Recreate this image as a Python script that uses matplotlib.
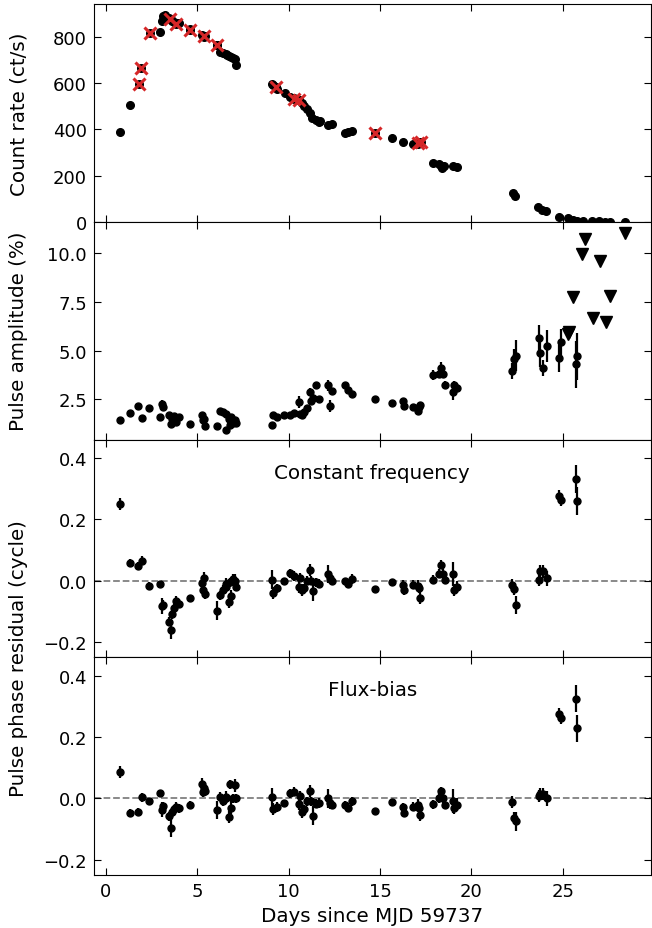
import numpy as np
import matplotlib
matplotlib.use("Agg")
import matplotlib.pyplot as plt

# ---- count rate (panel 1) ----
t_rate = [0.77, 1.33, 2.95, 3.06, 3.15, 3.25, 3.46, 3.55, 3.64, 3.73, 3.82, 4.0, 4.6,
          5.27, 5.36, 5.45, 6.09, 6.27, 6.4, 6.55, 6.65, 6.73, 6.86, 6.95, 7.05, 7.13,
          9.09, 9.15, 9.37, 9.82, 10.1, 10.27, 10.55, 10.73, 10.82, 11.0, 11.18, 11.27,
          11.51, 11.64, 11.7, 12.18, 12.36, 13.09, 13.27, 13.49,
          15.64, 16.28, 16.78, 17.09, 17.18, 17.88, 18.22, 18.33, 18.42, 18.49, 19.0, 19.22,
          22.28, 22.4, 23.64, 23.88, 24.09, 24.82, 25.31, 25.55, 25.8, 26.1, 26.6, 27.0,
          27.3, 27.6, 28.4]
rate = [388, 505, 822, 870, 888, 893, 880, 878, 870, 865, 862, 858, 835,
        810, 800, 805, 765, 735, 730, 727, 720, 716, 712, 710, 703, 678,
        598, 592, 575, 555, 540, 535, 525, 515, 500, 490, 470, 448,
        440, 432, 435, 418, 422, 386, 389, 393,
        363, 344, 336, 338, 343, 255, 248, 240, 231, 242, 242, 238,
        123, 112, 62, 51, 46, 22, 15, 7, 5, 3, 2, 2,
        1, 1, 0]

# red crosses (flagged observations, also drawn as black points)
t_cross = [1.82, 1.95, 2.4, 3.49, 3.82, 4.6, 5.4, 6.06, 9.33, 10.27, 10.55, 14.71, 17.1, 17.25]
rate_cross = [598, 665, 815, 878, 857, 831, 804, 766, 581, 530, 526, 382, 339, 343]

# ---- pulse timing (panels 2-4) ----
t_pulse = [0.76, 1.33, 1.78, 1.96, 2.36, 2.95, 3.06, 3.15, 3.46, 3.55, 3.64, 3.73, 3.82, 4.0, 4.6,
           5.27, 5.33, 5.36, 5.45,
           6.09, 6.27, 6.4, 6.55, 6.6, 6.73, 6.78, 6.86, 6.95, 7.05, 7.13,
           9.09, 9.15, 9.37, 9.73, 10.1, 10.27, 10.55, 10.6, 10.73, 10.85, 11.0, 11.18, 11.2,
           11.31, 11.51, 11.69, 12.18, 12.27, 12.36, 13.09, 13.27, 13.49,
           14.71, 15.64, 16.28, 16.3, 16.78, 17.09, 17.14, 17.18, 17.88, 18.22, 18.33, 18.46,
           18.55, 19.0, 19.04, 19.22,
           22.24, 22.33, 22.42, 23.68, 23.73, 23.9, 24.13, 24.82, 24.88, 25.73, 25.78]
amp = [1.45, 1.79, 2.17, 1.53, 2.05, 1.58, 2.27, 2.1, 1.7, 1.24, 1.5, 1.65, 1.35, 1.6, 1.24,
       1.7, 1.45, 1.5, 1.15,
       1.12, 1.93, 1.85, 0.95, 1.75, 1.5, 1.2, 1.6, 1.3, 1.45, 1.3,
       1.19, 1.7, 1.6, 1.7, 1.7, 1.8, 2.36, 1.75, 1.7, 1.85, 2.05, 2.88, 2.4,
       2.6, 3.22, 2.5, 3.22, 2.15, 2.93, 3.26, 3.0, 2.8,
       2.53, 2.32, 2.41, 2.15, 2.14, 1.93, 2.1, 2.2, 3.74, 3.8, 4.13, 3.8,
       3.26, 2.88, 3.26, 3.1,
       3.96, 4.57, 4.74, 5.64, 4.86, 4.12, 5.24, 4.6, 5.43, 4.31, 4.72]
amp_err = [0.05, 0.05, 0.05, 0.05, 0.05, 0.05, 0.2, 0.1, 0.1, 0.1, 0.1, 0.1, 0.1, 0.1, 0.05,
           0.1, 0.1, 0.1, 0.1,
           0.1, 0.1, 0.1, 0.1, 0.1, 0.1, 0.1, 0.1, 0.1, 0.1, 0.1,
           0.1, 0.1, 0.1, 0.1, 0.1, 0.1, 0.3, 0.1, 0.1, 0.1, 0.1, 0.2, 0.1,
           0.2, 0.15, 0.1, 0.3, 0.3, 0.15, 0.1, 0.1, 0.1,
           0.05, 0.05, 0.1, 0.1, 0.1, 0.15, 0.1, 0.15, 0.25, 0.15, 0.3, 0.2,
           0.2, 0.4, 0.2, 0.15,
           0.4, 0.5, 0.8, 0.7, 0.7, 0.4, 0.8, 0.7, 0.7, 1.2, 1.2]

res_cf = [0.25, 0.057, 0.048, 0.065, -0.016, -0.012, -0.083, -0.078, -0.134, -0.16, -0.11, -0.09,
          -0.066, -0.075, -0.058,
          -0.008, -0.03, 0.008, -0.045,
          -0.098, -0.048, -0.03, -0.02, -0.01, -0.069, -0.005, -0.05, 0.005, 0.0, -0.02,
          0.003, -0.04, -0.025, -0.002, 0.024, 0.015, -0.02, 0.01, -0.03, -0.025, 0.0, 0.035, 0.0,
          -0.035, -0.005, -0.01, 0.021, 0.01, 0.0, -0.002, -0.01, 0.005,
          -0.027, -0.005, -0.013, -0.031, -0.013, -0.017, -0.025, -0.056, 0.003, 0.022, 0.052, 0.022,
          0.003, 0.022, -0.03, -0.02,
          -0.015, -0.027, -0.08, 0.003, 0.03, 0.03, 0.007, 0.277, 0.262, 0.332, 0.26]
res_fb = [0.087, -0.048, -0.043, 0.003, -0.01, 0.017, -0.037, -0.026, -0.058, -0.096, -0.045, -0.035,
          -0.028, -0.033, -0.02,
          0.046, 0.02, 0.035, 0.025,
          -0.037, 0.005, -0.01, 0.0, 0.005, -0.061, 0.046, -0.03, 0.0, 0.042, 0.0,
          0.005, -0.035, -0.028, -0.015, 0.017, 0.022, -0.018, 0.008, -0.045, -0.035, -0.01, 0.023, -0.01,
          -0.056, -0.018, -0.015, 0.0, -0.015, -0.02, -0.02, -0.03, -0.01,
          -0.042, -0.013, -0.029, -0.047, -0.027, -0.021, -0.03, -0.053, -0.019, 0.001, 0.023, 0.0,
          -0.02, -0.008, -0.03, -0.02,
          -0.011, -0.063, -0.075, 0.007, 0.015, 0.014, 0.0, 0.274, 0.263, 0.325, 0.228]
res_err = [0.02, 0.012, 0.012, 0.015, 0.01, 0.01, 0.025, 0.015, 0.015, 0.03, 0.015, 0.015,
           0.015, 0.015, 0.01,
           0.02, 0.015, 0.02, 0.015,
           0.03, 0.015, 0.015, 0.015, 0.02, 0.02, 0.015, 0.02, 0.015, 0.02, 0.015,
           0.03, 0.02, 0.015, 0.01, 0.015, 0.015, 0.02, 0.015, 0.02, 0.015, 0.015, 0.02, 0.015,
           0.03, 0.015, 0.015, 0.03, 0.02, 0.015, 0.01, 0.015, 0.015,
           0.01, 0.01, 0.015, 0.015, 0.015, 0.02, 0.015, 0.02, 0.015, 0.015, 0.015, 0.015,
           0.015, 0.04, 0.02, 0.02,
           0.02, 0.02, 0.03, 0.02, 0.02, 0.02, 0.025, 0.02, 0.02, 0.045, 0.045]

# upper limits on pulse amplitude
t_ul = [25.3, 25.35, 25.55, 26.06, 26.2, 26.64, 27.06, 27.37, 27.6, 28.4]
amp_ul = [5.85, 5.95, 7.74, 9.95, 10.7, 6.67, 9.6, 6.46, 7.79, 11.0]

plt.rcParams['font.size'] = 14.3
plt.rcParams['xtick.labelsize'] = 13
plt.rcParams['ytick.labelsize'] = 13
plt.rcParams['xtick.direction'] = 'in'
plt.rcParams['ytick.direction'] = 'in'
plt.rcParams['xtick.top'] = True
plt.rcParams['ytick.right'] = True
plt.rcParams['xtick.major.size'] = 5
plt.rcParams['ytick.major.size'] = 5
plt.rcParams['xtick.major.pad'] = 5
plt.rcParams['ytick.major.pad'] = 5

fig, axes = plt.subplots(4, 1, figsize=(6.52, 9.29), dpi=100, sharex=True)
fig.subplots_adjust(left=0.144, right=0.9977, top=0.9946, bottom=0.057, hspace=0)
ax1, ax2, ax3, ax4 = axes

ebkw = dict(fmt='o', color='k', ms=5, elinewidth=1.6, capsize=0)

ax1.plot(t_rate, rate, 'o', color='k', ms=5.5)
ax1.plot(t_cross, rate_cross, 'o', color='k', ms=5.5)
ax1.plot(t_cross, rate_cross, 'x', color='#d62728', ms=8.5, mew=2.2)
ax1.set_ylim(0, 942)
ax1.set_yticks([0, 200, 400, 600, 800])
ax1.set_ylabel('Count rate (ct/s)')

ax2.errorbar(t_pulse, amp, yerr=amp_err, **ebkw)
ax2.plot(t_ul, amp_ul, 'v', color='k', ms=8)
ax2.set_ylim(0.45, 11.6)
ax2.set_yticks([2.5, 5.0, 7.5, 10.0])
ax2.set_ylabel('Pulse amplitude (%)')

ax3.errorbar(t_pulse, res_cf, yerr=res_err, **ebkw)
ax4.errorbar(t_pulse, res_fb, yerr=res_err, **ebkw)
for ax, title in [(ax3, 'Constant frequency'), (ax4, 'Flux-bias')]:
    ax.axhline(0, color='grey', ls='--', lw=1.3, zorder=0)
    ax.set_ylim(-0.25, 0.46)
    ax.set_yticks([-0.2, 0.0, 0.2, 0.4])
    ax.text(0.5, 0.85, title, transform=ax.transAxes, ha='center', va='center')

ax3.set_ylabel('Pulse phase residual (cycle)')
ax4.set_xlim(-0.65, 29.8)
ax4.set_xticks([0, 5, 10, 15, 20, 25])
ax4.set_xlabel('Days since MJD 59737')

for ax in (ax1, ax2):
    ax.yaxis.set_label_coords(-0.118, 0.5)
ax3.yaxis.set_label_coords(-0.118, 0.0)

plt.savefig('out.png', dpi=100)
